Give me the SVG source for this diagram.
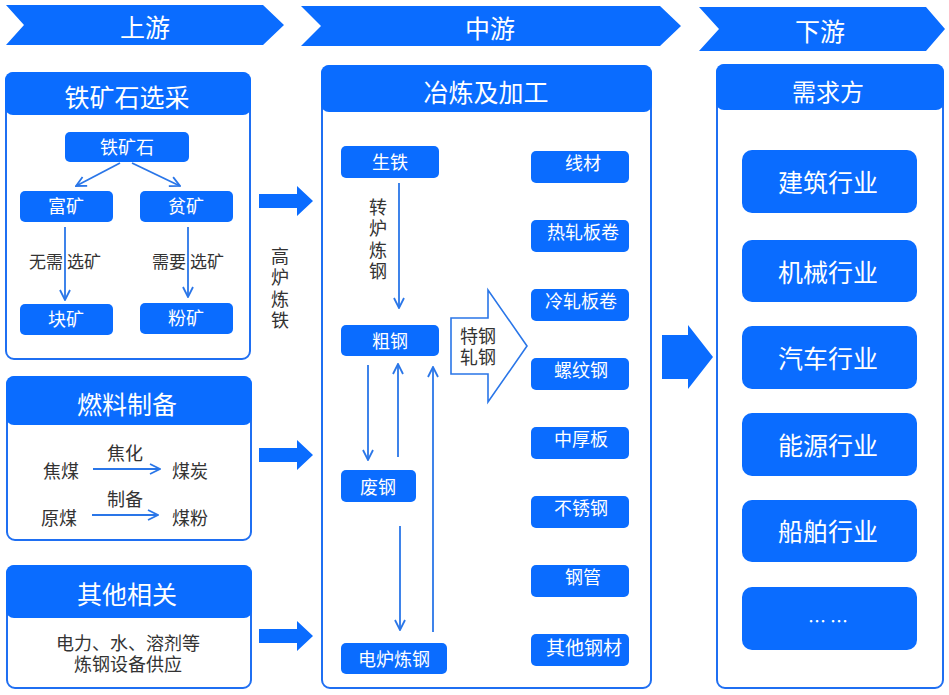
<svg xmlns="http://www.w3.org/2000/svg" width="949" height="695" viewBox="0 0 949 695">
<style>
text{font-family:"Noto Sans CJK SC","Noto Sans",sans-serif;dominant-baseline:central;text-anchor:middle}
.blue{fill:#0a6cff}
.panel{fill:#fff;stroke:#1f6ff2;stroke-width:2}
.wt{fill:#fff}
.dk{fill:#333}
.t26{font-size:25px}
.t18{font-size:18px}
.t17{font-size:17px}
.vt{writing-mode:vertical-rl;letter-spacing:3.5px;font-size:18px;fill:#333}
.conn{stroke:#2a76e8;stroke-width:1.8;fill:none;marker-end:url(#ah)}
</style>
<defs>
<marker id="ah" viewBox="0 0 12 12" refX="11" refY="6" markerWidth="12" markerHeight="12" markerUnits="userSpaceOnUse" orient="auto">
<path d="M1,1 L11,6 L1,11" fill="none" stroke="#2a76e8" stroke-width="1.8"/>
</marker>
</defs>
<rect width="949" height="695" fill="#fff"/>

<g id="banner-up">
<polygon class="blue" points="6,5 263,5 284,25 263,45 6,45 24,25"/>
<text class="wt t26" x="145" y="26">上游</text>
</g>
<g id="banner-mid">
<polygon class="blue" points="301,6 660,6 681,26 660,46 301,46 321,26"/>
<text class="wt t26" x="490" y="27">中游</text>
</g>
<g id="banner-down">
<polygon class="blue" points="699,7 926,7 945,29 926,51 699,51 719,29"/>
<text class="wt t26" x="820" y="30">下游</text>
</g>

<g id="panel-ore">
<rect class="panel" x="6" y="73" width="244" height="286" rx="8"/>
<rect class="blue" x="5" y="72" width="246" height="43" rx="8"/>
<text class="wt t26" x="127" y="96">铁矿石选采</text>
</g>
<g id="n-ore"><rect class="blue" x="65" y="132" width="124" height="30" rx="5"/><text class="wt t18" x="127" y="146">铁矿石</text></g>
<g id="n-rich"><rect class="blue" x="20" y="191" width="93" height="31" rx="5"/><text class="wt t18" x="66" y="205">富矿</text></g>
<g id="n-poor"><rect class="blue" x="140" y="191" width="93" height="31" rx="5"/><text class="wt t18" x="186" y="205">贫矿</text></g>
<g id="n-lump"><rect class="blue" x="20" y="304" width="93" height="31" rx="5"/><text class="wt t18" x="66" y="318">块矿</text></g>
<g id="n-fine"><rect class="blue" x="140" y="303" width="93" height="31" rx="5"/><text class="wt t18" x="186" y="317">粉矿</text></g>
<text class="dk t17" x="65" y="260">无需 选矿</text>
<text class="dk t17" x="188" y="260">需要 选矿</text>

<g id="panel-fuel">
<rect class="panel" x="7" y="377" width="244" height="163" rx="8"/>
<rect class="blue" x="6" y="376" width="246" height="49" rx="8"/>
<text class="wt t26" x="127" y="403">燃料制备</text>
<text class="dk t18" x="61" y="470">焦煤</text>
<text class="dk t18" x="125" y="452">焦化</text>
<text class="dk t18" x="190" y="470">煤炭</text>
<text class="dk t18" x="59" y="517">原煤</text>
<text class="dk t18" x="125" y="498">制备</text>
<text class="dk t18" x="190" y="517">煤粉</text>
</g>

<g id="panel-other">
<rect class="panel" x="7" y="566" width="244" height="122" rx="8"/>
<rect class="blue" x="6" y="565" width="246" height="53" rx="8"/>
<text class="wt t26" x="127" y="593">其他相关</text>
<text class="dk t18"><tspan x="128" y="642">电力、水、溶剂等</tspan><tspan x="128" y="663">炼钢设备供应</tspan></text>
</g>

<g id="panel-mid">
<rect class="panel" x="322" y="66" width="329" height="622" rx="8"/>
<rect class="blue" x="321" y="65" width="331" height="47" rx="8"/>
<text class="wt t26" x="486" y="91">冶炼及加工</text>
</g>
<g id="n-pig"><rect class="blue" x="341" y="146" width="98" height="32" rx="5"/><text class="wt t18" x="390" y="161">生铁</text></g>
<g id="n-crude"><rect class="blue" x="341" y="325" width="98" height="31" rx="5"/><text class="wt t18" x="390" y="340">粗钢</text></g>
<g id="n-scrap"><rect class="blue" x="341" y="470" width="75" height="32" rx="5"/><text class="wt t18" x="378" y="486">废钢</text></g>
<g id="n-eaf"><rect class="blue" x="341" y="643" width="106" height="31" rx="5"/><text class="wt t18" x="394" y="658">电炉炼钢</text></g>
<text class="vt" x="378" y="241">转炉炼钢</text>
<text class="vt" x="280" y="290">高炉炼铁</text>
<g id="n-roll">
<polygon points="451,318 488,318 488,290 527,346 488,402 488,374 451,374" fill="#fff" stroke="#2a76e8" stroke-width="1.6"/>
<text class="dk t18"><tspan x="478" y="335">特钢</tspan><tspan x="478" y="356">轧钢</tspan></text>
</g>

<g id="products">
<g id="p1"><rect class="blue" x="531" y="151" width="98" height="32" rx="5"/><text class="wt t18" x="583" y="162">线材</text></g>
<g id="p2"><rect class="blue" x="531" y="220" width="98" height="32" rx="5"/><text class="wt t18" x="583" y="231">热轧板卷</text></g>
<g id="p3"><rect class="blue" x="531" y="289" width="98" height="32" rx="5"/><text class="wt t18" x="581" y="300">冷轧板卷</text></g>
<g id="p4"><rect class="blue" x="531" y="358" width="98" height="32" rx="5"/><text class="wt t18" x="581" y="369">螺纹钢</text></g>
<g id="p5"><rect class="blue" x="531" y="427" width="98" height="32" rx="5"/><text class="wt t18" x="581" y="438">中厚板</text></g>
<g id="p6"><rect class="blue" x="531" y="496" width="98" height="32" rx="5"/><text class="wt t18" x="581" y="507">不锈钢</text></g>
<g id="p7"><rect class="blue" x="531" y="565" width="98" height="32" rx="5"/><text class="wt t18" x="583" y="576">钢管</text></g>
<g id="p8"><rect class="blue" x="531" y="634" width="98" height="32" rx="5"/><text class="wt t18" x="584" y="646" style="font-size:19px">其他钢材</text></g>
</g>

<g id="panel-down">
<rect class="panel" x="717" y="65" width="226" height="623" rx="8"/>
<rect class="blue" x="716" y="64" width="228" height="46" rx="8"/>
<text class="wt" x="828" y="90" style="font-size:24px">需求方</text>
</g>
<g id="d1"><rect class="blue" x="742" y="150" width="175" height="63" rx="10"/><text class="wt t26" x="828" y="181">建筑行业</text></g>
<g id="d2"><rect class="blue" x="742" y="240" width="175" height="62" rx="10"/><text class="wt t26" x="828" y="271">机械行业</text></g>
<g id="d3"><rect class="blue" x="742" y="326" width="175" height="63" rx="10"/><text class="wt t26" x="828" y="357">汽车行业</text></g>
<g id="d4"><rect class="blue" x="742" y="413" width="175" height="63" rx="10"/><text class="wt t26" x="828" y="444">能源行业</text></g>
<g id="d5"><rect class="blue" x="742" y="500" width="175" height="62" rx="10"/><text class="wt t26" x="828" y="530">船舶行业</text></g>
<g id="d6"><rect class="blue" x="742" y="587" width="175" height="63" rx="10"/><text class="wt t18" x="828" y="620">… …</text></g>

<g id="connectors">
<line class="conn" x1="120" y1="163" x2="76" y2="186"/>
<line class="conn" x1="132" y1="163" x2="180" y2="186"/>
<line class="conn" x1="65" y1="227" x2="65" y2="300"/>
<line class="conn" x1="188" y1="227" x2="188" y2="297"/>
<line class="conn" x1="93" y1="469" x2="160" y2="469"/>
<line class="conn" x1="92" y1="515" x2="158" y2="515"/>
<line class="conn" x1="399" y1="183" x2="399" y2="308"/>
<line class="conn" x1="368" y1="365" x2="368" y2="460"/>
<line class="conn" x1="398" y1="457" x2="398" y2="364"/>
<line class="conn" x1="433" y1="632" x2="433" y2="367"/>
<line class="conn" x1="400" y1="526" x2="400" y2="630"/>
<polygon class="blue" points="259,194 297,194 297,186 313,201 297,216 297,208 259,208"/>
<polygon class="blue" points="259,448 297,448 297,440 313,455 297,470 297,462 259,462"/>
<polygon class="blue" points="259,629 297,629 297,621 313,636 297,651 297,643 259,643"/>
<polygon class="blue" points="662,335 688,335 688,325 713,357 688,389 688,379 662,379"/>
</g>
</svg>
